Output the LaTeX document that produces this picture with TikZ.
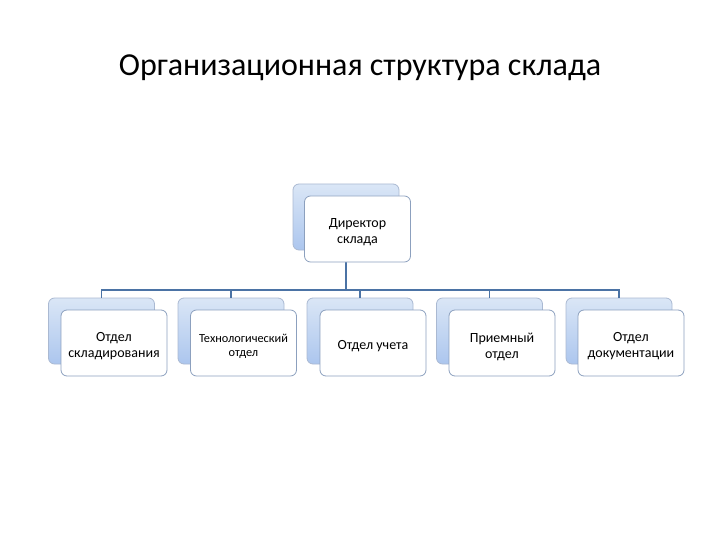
\documentclass[tikz,border=0pt]{standalone}
\usepackage{fontspec}
\setmainfont{Carlito}
\usetikzlibrary{calc}
\definecolor{linec}{RGB}{75,115,165}
\definecolor{backtop}{RGB}{218,230,246}
\definecolor{backbot}{RGB}{172,198,238}
\definecolor{backdraw}{RGB}{170,185,210}
\definecolor{frontdraw}{RGB}{140,160,190}
\tikzset{
  backbox/.style={draw=backdraw, line width=0.8pt, rounded corners=6pt,
    top color=backtop, bottom color=backbot, minimum width=106pt, minimum height=66pt, inner sep=0pt},
  frontbox/.style={draw=frontdraw, line width=0.8pt, rounded corners=6pt, fill=white,
    minimum width=106pt, minimum height=66pt, inner sep=0pt},
  boxtext/.style={align=center, font=\fontsize{14}{16}\selectfont, yshift=-3.5pt, inner sep=0pt},
  conn/.style={draw=linec, line width=1.4pt}
}
\begin{document}
\begin{tikzpicture}[x=1pt,y=-1pt]
\useasboundingbox (0,0) rectangle (720,540);
\node[font=\fontsize{32}{36}\selectfont] (title) at (360,68) {Организационная структура склада};
% back boxes
\node[backbox] (dB) at (346,217) {};
\node[backbox] (aB) at (101.5,331) {};
\node[backbox] (bB) at (231,331) {};
\node[backbox] (cB) at (360,331) {};
\node[backbox] (eB) at (489.5,331) {};
\node[backbox] (fB) at (619,331) {};
% connectors
\coordinate (bus) at (346,290);
\draw[conn] (dB.south) -- (bus);
\draw[conn] (bus) -| (aB.north);
\draw[conn] (bus) -| (bB.north);
\draw[conn] (bus) -| (cB.north);
\draw[conn] (bus) -| (eB.north);
\draw[conn] (bus) -| (fB.north);
% front boxes
\node[frontbox, label={[boxtext]center:{Директор\\склада}}] (d) at (357.5,229) {};
\node[frontbox, label={[boxtext]center:{Отдел\\складирования}}] (a) at (114,343) {};
\node[frontbox, label={[boxtext, font=\fontsize{12.3}{14}\selectfont]center:{Технологический\\отдел}}] (b) at (243.5,343) {};
\node[frontbox, label={[boxtext]center:{Отдел учета}}] (c) at (373,343) {};
\node[frontbox, label={[boxtext]center:{Приемный\\отдел}}] (e) at (502,343) {};
\node[frontbox, label={[boxtext]center:{Отдел\\документации}}] (f) at (631,343) {};
\end{tikzpicture}
\end{document}
